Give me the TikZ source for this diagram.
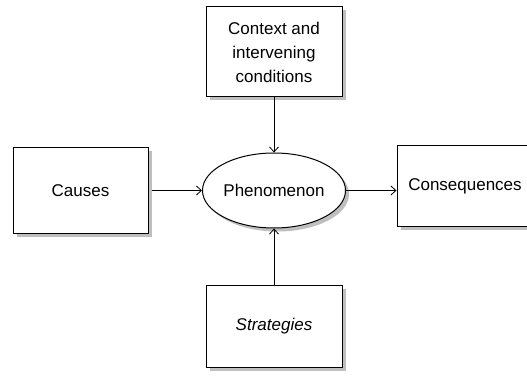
\documentclass[tikz,border=0pt]{standalone}
\usepackage{fontspec}
\setmainfont{Liberation Sans}
\usetikzlibrary{arrows.meta,shadows,shapes.geometric}
\begin{document}
\begin{tikzpicture}[x=1pt,y=-1pt,
  txt/.style={font=\fontsize{17}{24}\selectfont},
  shad/.style={drop shadow={shadow xshift=3.5pt, shadow yshift=-3.5pt, fill=gray!50, opacity=1}},
  box/.style={draw, line width=1pt, fill=white, minimum width=136pt, minimum height=#1,
    inner sep=0pt, align=center, txt, shad},
  oval/.style={ellipse, draw, line width=1pt, fill=white, minimum width=140pt, minimum height=75pt,
    inner sep=0pt, txt, shad},
  arr/.style={line width=0.8pt, -{Straight Barb[length=5pt,width=9pt,line width=0.8pt]}}]
\useasboundingbox (0,0) rectangle (527,379);
\clip (0,0) rectangle (527,379);
\fill[white] (0,0) rectangle (527,379);
\node[box=90pt] (ctx) at (274,52) {Context and\\intervening\\conditions};
\node[box=86pt, minimum width=135pt] (cau) at (80.5,190.5) {Causes};
\node[oval] (phe) at (274,190.5) {Phenomenon};
\node[box=81pt] (con) at (465,186.5) {Consequences};
\node[box=82pt] (str) at (274,326) {\itshape Strategies};
\draw[arr] (ctx.south) -- (phe.north);
\draw[arr] (str.north) -- (phe.south);
\draw[arr] ([xshift=3pt]cau.east) -- (phe.west);
\draw[arr] (phe.east) -- (con.west |- phe.east);
\end{tikzpicture}
\end{document}
